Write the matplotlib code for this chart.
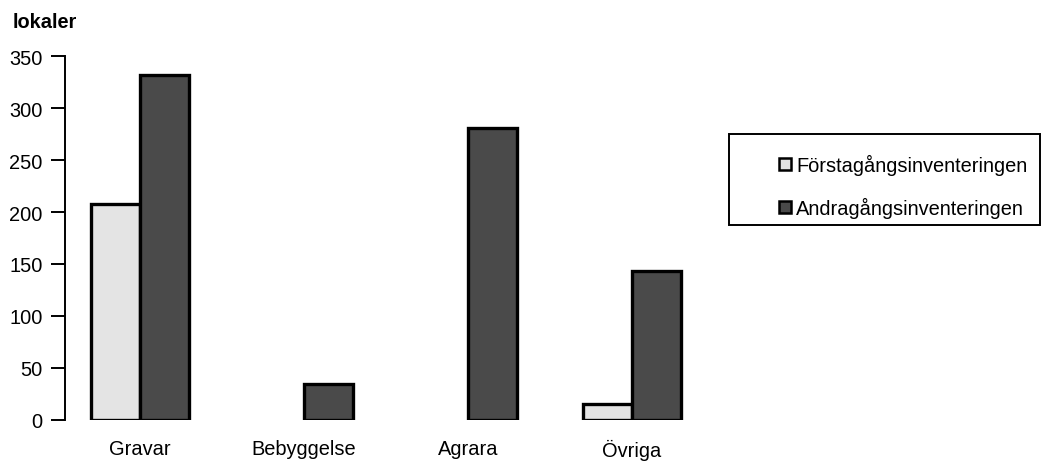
import matplotlib
matplotlib.use("Agg")
import matplotlib.pyplot as plt
from matplotlib.patches import Patch, Rectangle
import numpy as np

categories = ["Gravar", "Bebyggelse", "Agrara", "Övriga"]
forsta = [208, 0, 0, 15]
andra = [332, 34, 281, 143]
series_labels = ["Förstagångsinventeringen", "Andragångsinventeringen"]
y_ticks = [0, 50, 100, 150, 200, 250, 300, 350]
y_label = "lokaler"

plt.rcParams['font.family'] = ['Liberation Sans', 'DejaVu Sans']

W, H = 1042, 464
fig = plt.figure(figsize=(W / 100, H / 100), dpi=100)
fig.patch.set_facecolor('white')

ax_left = 65 / W
ax_bottom = (H - 420.7) / H
ax_top = (H - 57.3) / H
ax = fig.add_axes([ax_left, ax_bottom, 1 - ax_left, ax_top - ax_bottom])

x = np.arange(len(categories))
bw = 0.30
light = '#e4e4e4'
dark = '#4a4a4a'
fs = 14.4

fv = np.array(forsta, dtype=float)
av = np.array(andra, dtype=float)
mask = fv > 0
ax.bar(x[mask] - bw, fv[mask], width=bw, align='edge', color=light,
       edgecolor='black', linewidth=2.4, zorder=3)
ax.bar(x, av, width=bw, align='edge', color=dark,
       edgecolor='black', linewidth=2.4, zorder=3)

ax.set_ylim(0, 350)
px_per_unit = 164
ax.set_xlim(0 - (140 - 65) / px_per_unit, 3 + (W - 632) / px_per_unit)

ax.set_yticks(y_ticks)
ax.set_yticklabels([str(v) for v in y_ticks], fontsize=fs)
ax.set_xticks(x)
ax.set_xticklabels(categories, fontsize=fs)
ax.tick_params(axis='y', direction='out', length=10, width=1.4, pad=6)
ax.tick_params(axis='x', length=0, pad=14)

for s in ['top', 'right', 'bottom']:
    ax.spines[s].set_visible(False)
ax.spines['left'].set_linewidth(1.4)

fig.text(13 / W, 1 - 22 / H, y_label, fontsize=fs, fontweight='bold',
         ha='left', va='center')

handles = [Patch(facecolor=light, edgecolor='black', linewidth=1.8),
           Patch(facecolor=dark, edgecolor='black', linewidth=1.8)]
leg = fig.legend(handles, series_labels, loc='upper left',
                 bbox_to_anchor=(779 / W, 1 - 155 / H),
                 bbox_transform=fig.transFigure, frameon=False,
                 fontsize=fs, borderpad=0, borderaxespad=0,
                 handlelength=0.6, handleheight=0.6, handletextpad=0.25,
                 labelspacing=1.1)

fig.patches.append(Rectangle((729 / W, 1 - 226 / H), (1040 - 729) / W, (226 - 135) / H,
                             transform=fig.transFigure, facecolor='none',
                             edgecolor='black', linewidth=1.4))

fig.savefig('out.png', dpi=100, facecolor='white')
